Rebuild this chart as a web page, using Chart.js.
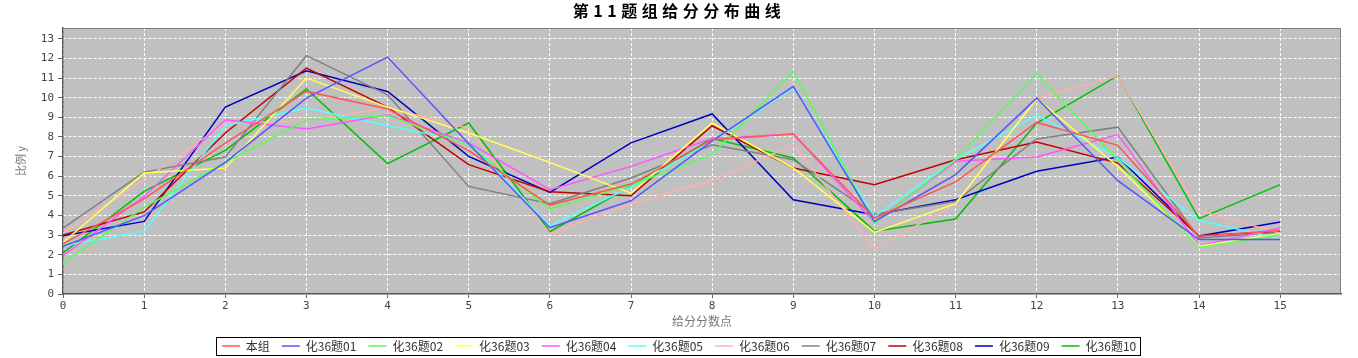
<!DOCTYPE html>
<html>
<head>
<meta charset="utf-8">
<script src="https://cdn.jsdelivr.net/npm/chart.js@4.4.1/dist/chart.umd.min.js"></script>
<style>
  html, body { margin: 0; padding: 0; background: #ffffff; }
  #wrap { width: 1358px; height: 358px; }
</style>
</head>
<body>
<div id="wrap"><canvas id="c" width="1358" height="358"></canvas></div>
<script>
// ---- data ----
const categories = [0, 1, 2, 3, 4, 5, 6, 7, 8, 9, 10, 11, 12, 13, 14, 15];
const seriesLabels = ['本组', '化36题01', '化36题02', '化36题03', '化36题04', '化36题05',
                      '化36题06', '化36题07', '化36题08', '化36题09', '化36题10'];
const benzu  = [2.55, 4.84, 7.69, 10.32, 9.42, 7.30, 4.53, 5.60, 7.86, 8.15, 3.87, 5.71, 8.74, 7.57, 2.94, 3.23];
const hua01  = [2.43, 3.99, 6.71, 9.98, 12.07, 7.65, 3.38, 4.75, 7.80, 10.58, 3.70, 6.08, 9.98, 5.77, 2.77, 2.77];
const hua02  = [1.58, 4.41, 6.70, 8.88, 9.08, 7.60, 4.33, 5.55, 7.10, 11.34, 3.60, 6.84, 11.22, 6.80, 2.36, 3.02];
const hua03  = [2.63, 6.16, 6.42, 11.00, 9.52, 8.20, 6.70, 5.14, 8.71, 6.42, 3.14, 4.60, 9.95, 6.50, 2.43, 3.07];
const hua04  = [1.95, 4.97, 8.88, 8.40, 9.13, 7.70, 5.31, 6.50, 7.92, 8.15, 3.65, 6.76, 6.98, 8.12, 2.46, 3.36];
const hua05  = [2.46, 3.19, 8.57, 9.47, 8.57, 7.75, 3.48, 5.45, 7.77, 10.50, 3.95, 6.84, 9.10, 6.95, 3.74, 2.82];
const hua06  = [3.10, 5.82, 8.70, 8.83, 9.50, 8.45, 3.07, 4.60, 5.77, 7.60, 2.29, 4.60, 9.98, 11.10, 4.24, 3.10];
const hua07  = [3.36, 6.21, 6.98, 12.14, 10.15, 5.48, 4.60, 5.91, 7.60, 6.84, 4.05, 4.72, 7.90, 8.50, 2.85, 3.14];
const hua08  = [3.00, 4.18, 8.20, 11.51, 9.52, 6.59, 5.21, 5.00, 8.57, 6.42, 5.57, 6.84, 7.74, 6.67, 2.97, 3.19];
const hua09  = [2.97, 3.70, 9.52, 11.37, 10.32, 7.01, 5.18, 7.70, 9.17, 4.80, 4.04, 4.80, 6.25, 6.98, 2.95, 3.67];
const hua10  = [2.09, 5.23, 7.32, 10.44, 6.64, 8.71, 3.17, 5.50, 7.92, 6.93, 3.20, 3.82, 8.71, 11.12, 3.84, 5.57];
const seriesValues = [benzu, hua01, hua02, hua03, hua04, hua05, hua06, hua07, hua08, hua09, hua10];
const seriesColors = ['#FF5555', '#5555FF', '#55FF55', '#FFFF55', '#FF55FF', '#55FFFF',
                      '#FFAFAF', '#808080', '#C00000', '#0000C0', '#00C000'];
const titleText = '第11题组给分分布曲线';
const xTitle = '给分分数点';
const yTitle = '比例 y';

const datasets = seriesLabels.map((lab, i) => ({
  label: lab,
  data: categories.map((c, j) => ({ x: c, y: seriesValues[i][j] })),
  borderColor: seriesColors[i],
  backgroundColor: seriesColors[i],
  borderWidth: 1.5,
  pointRadius: 0,
  pointHoverRadius: 0,
  fill: false,
  tension: 0
}));

const plotBg = {
  id: 'plotBg',
  beforeDraw(chart) {
    const { ctx, chartArea: a } = chart;
    ctx.save();
    ctx.fillStyle = '#C0C0C0';
    ctx.fillRect(a.left, a.top, a.right - a.left, a.bottom - a.top);
    ctx.restore();
    const tb = chart.titleBlock;
    if (tb && !tb._sp) {
      const orig = tb.draw;
      tb.draw = function (...args) {
        const c = this.ctx; c.save(); c.letterSpacing = '4.5px'; orig.apply(this, args); c.restore();
      };
      tb._sp = true;
    }
  },
  afterDraw(chart) {
    const { ctx, chartArea: a } = chart;
    ctx.save();
    ctx.strokeStyle = '#808080';
    ctx.lineWidth = 1;
    ctx.beginPath();
    ctx.moveTo(a.left, a.top + 0.5);
    ctx.lineTo(a.right - 0.5, a.top + 0.5);
    ctx.lineTo(a.right - 0.5, a.bottom);
    ctx.stroke();
    // legend frame
    const lg = chart.legend;
    if (lg && lg.legendHitBoxes && lg.legendHitBoxes.length) {
      const hb = lg.legendHitBoxes;
      const first = hb[0], last = hb[hb.length - 1];
      const l = first.left - 6, r = last.left + last.width + 4;
      const t = first.top - 3, b = first.top + first.height + 3;
      ctx.strokeStyle = '#000000';
      ctx.lineWidth = 1;
      ctx.strokeRect(Math.round(l) + 0.5, Math.round(t) + 0.5, Math.round(r - l), Math.round(b - t));
    }
    ctx.restore();
  }
};

new Chart(document.getElementById('c'), {
  type: 'line',
  data: { datasets },
  plugins: [plotBg],
  options: {
    responsive: false,
    animation: false,
    devicePixelRatio: 1,
    layout: { padding: 0 },
    plugins: {
      tooltip: { enabled: false },
      title: {
        display: true,
        text: titleText,
        color: '#000000',
        font: { family: "'Noto Sans CJK SC', sans-serif", size: 16, weight: 'bold', lineHeight: 1.25 },
        padding: { top: 1, bottom: 7 }
      },
      legend: {
        display: true,
        position: 'bottom',
        maxHeight: 30,
        labels: {
          usePointStyle: true,
          pointStyle: 'line',
          pointStyleWidth: 18,
          padding: 12,
          color: '#333333',
          font: { family: "'Noto Sans CJK SC', sans-serif", size: 12 }
        }
      }
    },
    scales: {
      x: {
        type: 'linear',
        min: 0,
        max: 15.75,
        afterFit: s => { s.height = 34; },
        ticks: {
          stepSize: 1,
          includeBounds: false,
          autoSkip: false,
          maxRotation: 0,
          padding: 2,
          color: '#444444',
          font: { family: "'DejaVu Sans Mono', monospace", size: 11 }
        },
        grid: { color: '#FFFFFF', lineWidth: 1, tickColor: '#666666', tickLength: 4 },
        border: { color: '#555555', width: 1.5, dash: [3, 2] },
        title: {
          display: true,
          text: xTitle,
          color: '#777777',
          padding: { top: 0, bottom: -1 },
          font: { family: "'Noto Sans CJK SC', sans-serif", size: 12 }
        }
      },
      y: {
        type: 'linear',
        min: 0,
        max: 13.55,
        afterFit: s => { s.width = 63; },
        ticks: {
          stepSize: 1,
          includeBounds: false,
          padding: 4,
          color: '#444444',
          font: { family: "'DejaVu Sans Mono', monospace", size: 11 }
        },
        grid: { color: '#FFFFFF', lineWidth: 1, tickColor: '#666666', tickLength: 5 },
        border: { color: '#555555', width: 1.5, dash: [3, 2] },
        title: {
          display: true,
          text: yTitle,
          color: '#777777',
          padding: { top: 14, bottom: 0 },
          font: { family: "'Noto Sans CJK SC', sans-serif", size: 11 }
        }
      },
      yr: {
        type: 'linear',
        position: 'right',
        display: true,
        afterFit: s => { s.width = 17; },
        ticks: { display: false },
        grid: { display: false },
        border: { display: false }
      }
    }
  }
});
</script>
</body>
</html>
